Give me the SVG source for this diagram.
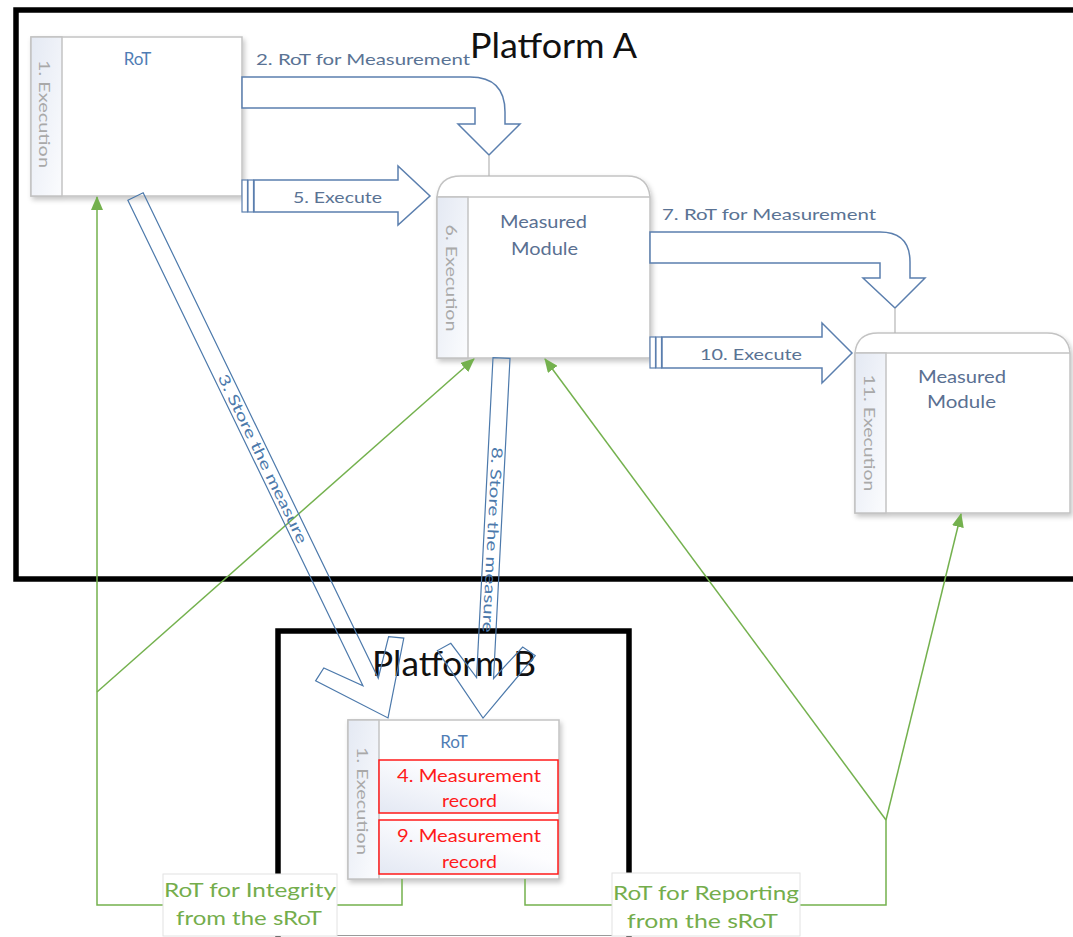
<svg xmlns="http://www.w3.org/2000/svg" width="1073" height="937" viewBox="0 0 1073 937">
  <style>
    text { font-family: Lato, "Open Sans", "Liberation Sans", sans-serif; }
    .frame { fill: none; stroke: #000; stroke-width: 5.5; }
    .box { fill: #fff; stroke: #c3c3c3; stroke-width: 1.5; }
    .strip { fill: url(#stripGrad); stroke: #c3c3c3; stroke-width: 1.5; }
    .rec { fill: url(#recGrad); stroke: #ff1a1a; stroke-width: 1.5; }
    .big { font-size: 34px; fill: #111; }
    .name { font-size: 17px; fill: #5a7092; }
    .rot { font-size: 17px; fill: #4f7db5; }
    .exec { font-size: 16px; fill: #a9a9a9; }
    .flow { font-size: 16px; fill: #5a7394; }
    .redtxt { font-size: 18px; fill: #ff1a1a; }
    .green { font-size: 20px; fill: #74ad4c; }
    .blk { fill: #fff; stroke: #5b7fae; stroke-width: 1.5; }
    .bar { fill: #fff; stroke: #5b7fae; stroke-width: 1.2; }
    .store { fill: none; stroke: #4c79ab; stroke-width: 1.2; }
    .storetxt { font-size: 15px; fill: #4c79ab; }
    .tick { stroke: #b5b5b5; stroke-width: 1.2; }
    .g { fill: none; stroke: #74b14e; stroke-width: 1.5; }
    .lbl { fill: #fff; stroke: #e2e2e2; stroke-width: 1; }
  </style>
  <defs>
    <linearGradient id="stripGrad" x1="0" y1="0" x2="1" y2="1">
      <stop offset="0" stop-color="#e4e9f3"/>
      <stop offset="1" stop-color="#fbfcfe"/>
    </linearGradient>
    <linearGradient id="recGrad" x1="0" y1="1" x2="1" y2="0">
      <stop offset="0" stop-color="#e3e8f3"/>
      <stop offset="0.6" stop-color="#fdfdff"/>
      <stop offset="1" stop-color="#fff"/>
    </linearGradient>
    <filter id="shadow" x="-10%" y="-10%" width="130%" height="130%">
      <feDropShadow dx="2" dy="3" stdDeviation="2.5" flood-color="#000" flood-opacity="0.22"/>
    </filter>
    <marker id="gArrow" markerUnits="userSpaceOnUse" markerWidth="14" markerHeight="12" refX="13" refY="6" orient="auto">
      <path d="M0,0 L14,6 L0,12 Z" fill="#74b14e"/>
    </marker>
  </defs>

  <rect width="1073" height="937" fill="#fff"/>

  <!-- Platform A frame, running past the right edge -->
  <g id="platform-a">
    <rect class="frame" x="16" y="10" width="1080" height="569"/>
    <text class="big" x="470" y="58" textLength="167" lengthAdjust="spacingAndGlyphs">Platform A</text>
  </g>

  <!-- Platform B frame -->
  <g id="platform-b">
    <path class="frame" d="M278,940 L278,631 L629,631 L629,940"/>
    <line x1="337" y1="935.5" x2="612" y2="935.5" stroke="#9a9a9a" stroke-width="1"/>
    <text class="big" x="372" y="676" textLength="164" lengthAdjust="spacingAndGlyphs">Platform B</text>
  </g>

  <!-- Root of trust on platform A -->
  <g id="rot-a" filter="url(#shadow)">
    <rect class="box" x="31" y="37" width="211" height="159"/>
    <rect class="strip" x="31" y="37" width="31" height="159"/>
  </g>
  <g id="rot-a-text">
    <text class="rot" x="137.5" y="65" text-anchor="middle">RoT</text>
    <text class="exec" transform="translate(39,114) rotate(90)" text-anchor="middle" textLength="108" lengthAdjust="spacingAndGlyphs">1. Execution</text>
  </g>

  <!-- First measured module -->
  <g id="module-1" filter="url(#shadow)">
    <path class="box" d="M437,358 L437,197 Q439,176 461,176 L627,176 Q648,176 650,197 L650,358 Z"/>
    <line x1="437" y1="197" x2="650" y2="197" stroke="#c3c3c3" stroke-width="1.5"/>
    <rect class="strip" x="437" y="197" width="31" height="161"/>
  </g>
  <g id="module-1-text">
    <text class="name" x="543.5" y="228" text-anchor="middle" textLength="87" lengthAdjust="spacingAndGlyphs">Measured</text>
    <text class="name" x="544.5" y="255" text-anchor="middle" textLength="67" lengthAdjust="spacingAndGlyphs">Module</text>
    <text class="exec" transform="translate(446,278) rotate(90)" text-anchor="middle" textLength="107" lengthAdjust="spacingAndGlyphs">6. Execution</text>
  </g>

  <!-- Second measured module -->
  <g id="module-2" filter="url(#shadow)">
    <path class="box" d="M855,513 L855,353 Q857,333 878,333 L1047,333 Q1068,333 1070,353 L1070,513 Z"/>
    <line x1="855" y1="353" x2="1070" y2="353" stroke="#c3c3c3" stroke-width="1.5"/>
    <rect class="strip" x="855" y="353" width="31" height="160"/>
  </g>
  <g id="module-2-text">
    <text class="name" x="962" y="383" text-anchor="middle" textLength="88" lengthAdjust="spacingAndGlyphs">Measured</text>
    <text class="name" x="961.5" y="408" text-anchor="middle" textLength="69" lengthAdjust="spacingAndGlyphs">Module</text>
    <text class="exec" transform="translate(864,433) rotate(90)" text-anchor="middle" textLength="117" lengthAdjust="spacingAndGlyphs">11. Execution</text>
  </g>

  <!-- Root of trust on platform B with its measurement records -->
  <g id="rot-b" filter="url(#shadow)">
    <rect class="box" x="348" y="720" width="211" height="159"/>
    <rect class="strip" x="348" y="720" width="31" height="159"/>
  </g>
  <g id="rot-b-content">
    <text class="rot" x="454" y="748" text-anchor="middle">RoT</text>
    <text class="exec" transform="translate(357,801) rotate(90)" text-anchor="middle" textLength="108" lengthAdjust="spacingAndGlyphs">1. Execution</text>
    <g id="record-4">
      <rect class="rec" x="379" y="760" width="179" height="53"/>
      <text class="redtxt" x="469" y="782" text-anchor="middle" textLength="144" lengthAdjust="spacingAndGlyphs">4. Measurement</text>
      <text class="redtxt" x="469.5" y="807" text-anchor="middle" textLength="55" lengthAdjust="spacingAndGlyphs">record</text>
    </g>
    <g id="record-9">
      <rect class="rec" x="379" y="820" width="179" height="54"/>
      <text class="redtxt" x="469" y="842" text-anchor="middle" textLength="144" lengthAdjust="spacingAndGlyphs">9. Measurement</text>
      <text class="redtxt" x="469.5" y="868" text-anchor="middle" textLength="55" lengthAdjust="spacingAndGlyphs">record</text>
    </g>
  </g>

  <!-- Connectors -->
  <g id="connectors">
    <!-- green support lines from the sRoT -->
    <polyline class="g" points="163,905 97,905 97,197" marker-end="url(#gArrow)"/>
    <line class="g" x1="97" y1="692" x2="474" y2="359" marker-end="url(#gArrow)"/>
    <polyline class="g" points="337,905 402,905 402,879"/>
    <polyline class="g" points="612,905 525,905 525,879"/>
    <polyline class="g" points="800,905 886,905 886,820"/>
    <line class="g" x1="886" y1="820" x2="545" y2="359" marker-end="url(#gArrow)"/>
    <line class="g" x1="886" y1="820" x2="961" y2="514" marker-end="url(#gArrow)"/>

    <!-- 2. RoT for Measurement -->
    <path class="blk" d="M242,77 L470,77 Q505,77 505,112 L505,124 L520,124 L489,155 L458,124 L475,124 L475,108 L242,108 Z"/>
    <line class="tick" x1="489" y1="155" x2="489" y2="176"/>
    <text class="flow" x="256" y="65" textLength="214" lengthAdjust="spacingAndGlyphs">2. RoT for Measurement</text>

    <!-- 5. Execute -->
    <rect class="bar" x="242" y="180" width="5.5" height="32"/>
    <rect class="bar" x="248" y="180" width="5.5" height="32"/>
    <path class="blk" d="M254,180 L398,180 L398,166 L430,196 L398,225 L398,212 L254,212 Z"/>
    <text class="flow" x="293" y="203" textLength="89" lengthAdjust="spacingAndGlyphs">5. Execute</text>

    <!-- 7. RoT for Measurement -->
    <path class="blk" d="M650,232 L880,232 Q910,232 910,262 L910,278 L925,278 L895,308 L863,278 L880,278 L880,263 L650,263 Z"/>
    <line class="tick" x1="895" y1="308" x2="895" y2="333"/>
    <text class="flow" x="662" y="220" textLength="214" lengthAdjust="spacingAndGlyphs">7. RoT for Measurement</text>

    <!-- 10. Execute -->
    <rect class="bar" x="650" y="337" width="5.5" height="31"/>
    <rect class="bar" x="656" y="337" width="5.5" height="31"/>
    <path class="blk" d="M662,337 L822,337 L822,323 L852,353 L822,383 L822,368 L662,368 Z"/>
    <text class="flow" x="700" y="360" textLength="102" lengthAdjust="spacingAndGlyphs">10. Execute</text>

    <!-- 3. Store the measure -->
    <g transform="translate(135.5,196.5) rotate(64.16)">
      <path class="store" d="M0,-8.5 L539.4,-8.5 L506.4,-36 L514.4,-49 L579.4,0 L514.4,49 L506.4,36 L539.4,8.5 L0,8.5 Z"/>
      <text class="storetxt" x="291.5" y="5" text-anchor="middle" textLength="186" lengthAdjust="spacingAndGlyphs">3. Store the measure</text>
    </g>

    <!-- 8. Store the measure -->
    <g transform="translate(501.5,358) rotate(92.94)">
      <path class="store" d="M0,-8.5 L320.5,-8.5 L287.5,-36 L295.5,-49 L360.5,0 L295.5,49 L287.5,36 L320.5,8.5 L0,8.5 Z"/>
      <text class="storetxt" x="182" y="5" text-anchor="middle" textLength="186" lengthAdjust="spacingAndGlyphs">8. Store the measure</text>
    </g>
  </g>

  <!-- Labels for the sRoT support lines -->
  <g id="label-integrity">
    <rect class="lbl" x="163" y="874" width="174" height="62"/>
    <text class="green" x="250" y="897" text-anchor="middle" textLength="172" lengthAdjust="spacingAndGlyphs">RoT for Integrity</text>
    <text class="green" x="249" y="925" text-anchor="middle" textLength="146" lengthAdjust="spacingAndGlyphs">from the sRoT</text>
  </g>
  <g id="label-reporting">
    <rect class="lbl" x="612" y="873" width="188" height="63"/>
    <text class="green" x="706" y="900" text-anchor="middle" textLength="186" lengthAdjust="spacingAndGlyphs">RoT for Reporting</text>
    <text class="green" x="702.5" y="928" text-anchor="middle" textLength="151" lengthAdjust="spacingAndGlyphs">from the sRoT</text>
  </g>
</svg>
